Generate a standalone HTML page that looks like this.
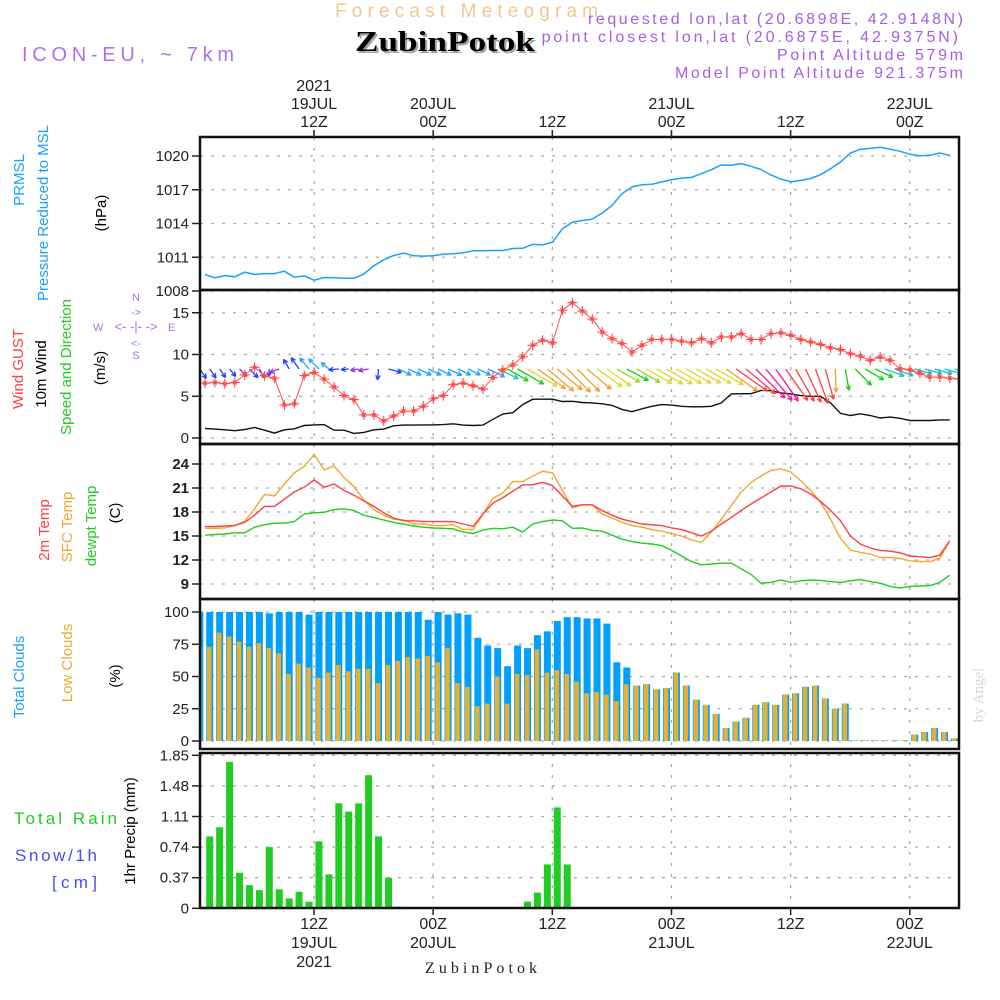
<!DOCTYPE html>
<html><head><meta charset="utf-8"><style>
html,body{margin:0;padding:0;background:#fff}
svg{display:block;font-family:"Liberation Sans",sans-serif}
</style></head><body>
<svg id="chart" width="1000" height="1000" viewBox="0 0 1000 1000" xmlns="http://www.w3.org/2000/svg">
<defs>
<clipPath id="clipP"><rect x="200" y="137" width="759" height="153"/></clipPath>
<clipPath id="clipW"><rect x="200" y="290" width="759" height="154"/></clipPath>
<clipPath id="clipT"><rect x="200" y="444" width="759" height="155"/></clipPath>
<clipPath id="clipC"><rect x="200" y="599" width="759" height="150"/></clipPath>
<clipPath id="clipR"><rect x="200" y="753" width="759" height="155"/></clipPath>
</defs>
<rect width="1000" height="1000" fill="#fff"/>
<!-- header -->
<text x="335" y="17" font-size="19" fill="#f2c98a" textLength="263" lengthAdjust="spacing">Forecast Meteogram</text>
<text x="588" y="24" font-size="16" fill="#a55ee6" textLength="375" lengthAdjust="spacing">requested lon,lat (20.6898E, 42.9148N)</text>
<text x="496" y="42" font-size="16" fill="#a55ee6" textLength="462" lengthAdjust="spacing">grid point closest lon,lat (20.6875E, 42.9375N)</text>
<text x="777" y="60" font-size="16" fill="#a55ee6" textLength="186" lengthAdjust="spacing">Point Altitude 579m</text>
<text x="675" y="78" font-size="16" fill="#a55ee6" textLength="288" lengthAdjust="spacing">Model Point Altitude 921.375m</text>
<text x="22" y="61" font-size="20" fill="#b070e8" textLength="212" lengthAdjust="spacing">ICON-EU, ~ 7km</text>
<rect x="352" y="26" width="188" height="32" fill="#fff"/>
<text x="357" y="53" font-size="29" font-weight="bold" font-family="Liberation Serif, serif" fill="#9aab9a" textLength="180" lengthAdjust="spacingAndGlyphs">ZubinPotok</text>
<text x="355" y="51" font-size="29" font-weight="bold" font-family="Liberation Serif, serif" fill="#000" textLength="180" lengthAdjust="spacingAndGlyphs">ZubinPotok</text>

<!-- left labels -->
<g font-size="15">
<text transform="translate(24,180) rotate(-90)" text-anchor="middle" fill="#1ca0ff">PRMSL</text>
<text transform="translate(48,213) rotate(-90)" text-anchor="middle" fill="#1ca0ff">Pressure Reduced to MSL</text>
<text transform="translate(106,213) rotate(-90)" text-anchor="middle" fill="#000">(hPa)</text>
<text transform="translate(23,369) rotate(-90)" text-anchor="middle" fill="#ff4040">Wind GUST</text>
<text transform="translate(46,374) rotate(-90)" text-anchor="middle" fill="#000">10m Wind</text>
<text transform="translate(71,367) rotate(-90)" text-anchor="middle" fill="#22cc22">Speed and Direction</text>
<text transform="translate(105,368) rotate(-90)" text-anchor="middle" fill="#000">(m/s)</text>
<text transform="translate(49,530) rotate(-90)" text-anchor="middle" fill="#ff4040">2m Temp</text>
<text transform="translate(72,527) rotate(-90)" text-anchor="middle" fill="#f0a830">SFC Temp</text>
<text transform="translate(96,526) rotate(-90)" text-anchor="middle" fill="#22cc22">dewpt Temp</text>
<text transform="translate(120,513) rotate(-90)" text-anchor="middle" fill="#000">(C)</text>
<text transform="translate(24,677) rotate(-90)" text-anchor="middle" fill="#1ca0ff">Total Clouds</text>
<text transform="translate(72,663) rotate(-90)" text-anchor="middle" fill="#f0a830">Low Clouds</text>
<text transform="translate(120,676) rotate(-90)" text-anchor="middle" fill="#000">(%)</text>
<text x="14" y="824" font-size="17" fill="#22cc22" textLength="103" lengthAdjust="spacing">Total  Rain</text>
<text x="15" y="861" font-size="17" fill="#4a4aff" textLength="82" lengthAdjust="spacing">Snow/1h</text>
<text x="52" y="888" font-size="17" fill="#4a4aff" textLength="45" lengthAdjust="spacing">[cm]</text>
<text transform="translate(135,831) rotate(-90)" text-anchor="middle" fill="#000">1hr Precip (mm)</text>
</g>
<g fill="#b070e8" font-size="11">
<text x="93" y="331">W</text><text x="136" y="301" text-anchor="middle">N</text>
<text x="136" y="359" text-anchor="middle">S</text><text x="168" y="331">E</text>
<text x="136" y="331" text-anchor="middle" font-size="13">&lt;- -|- -&gt;</text>
<text x="136" y="316" text-anchor="middle" font-size="11">-&gt;</text>
<text x="136" y="347" text-anchor="middle" font-size="11">&lt;-</text>
</g>
<text transform="translate(983,695) rotate(-90)" text-anchor="middle" font-size="15" font-family="Liberation Serif, serif" fill="#d8d8d8">by Angel</text>
<text x="425" y="973" font-size="16" font-family="Liberation Serif, serif" fill="#222" textLength="112" lengthAdjust="spacing">ZubinPotok</text>

<g id="grid"></g>
<g id="marks"></g>
<g id="axes"></g>
</svg>
<script>
// ---- data (hourly) ----
const pressure = [1009.47,1009.17,1009.38,1009.26,1009.67,1009.47,1009.55,1009.55,1009.76,1009.23,1009.35,1008.96,1009.2,1009.17,1009.14,1009.14,1009.5,1010.24,1010.77,1011.16,1011.37,1011.13,1011.1,1011.13,1011.28,1011.3,1011.4,1011.57,1011.57,1011.6,1011.6,1011.78,1011.8,1012.14,1012.1,1012.34,1013.53,1014.12,1014.27,1014.39,1014.93,1015.6,1016.65,1017.24,1017.45,1017.48,1017.7,1017.9,1018.04,1018.1,1018.43,1018.78,1019.2,1019.17,1019.32,1019.08,1018.8,1018.3,1017.95,1017.7,1017.83,1018.0,1018.34,1018.87,1019.47,1020.27,1020.6,1020.68,1020.77,1020.6,1020.42,1020.15,1020.03,1020.06,1020.27,1020.06];
const windGust = [6.57,6.65,6.5,6.65,7.56,8.46,7.44,7.17,3.94,4.1,7.48,7.83,7.05,6.1,5.08,4.6,2.76,2.76,2.05,2.64,3.23,3.23,3.8,4.7,5.08,6.38,6.57,6.26,5.87,7.24,8.15,8.74,9.72,11.1,11.7,11.4,15.3,16.2,15.2,14.25,12.68,11.9,11.3,10.3,11.1,11.8,11.8,11.8,11.6,11.4,11.9,11.4,12.1,12.1,12.5,11.8,11.8,12.5,12.6,12.3,11.8,11.5,11.2,10.8,10.6,10.1,9.8,9.3,9.7,9.3,8.3,8.15,7.75,7.3,7.3,7.17,7.05];
const wind10m = [1.14,1.06,0.98,0.87,1.02,1.26,0.94,0.59,0.98,1.1,1.5,1.57,1.6,0.94,0.94,0.55,0.67,0.98,1.06,1.46,1.54,1.54,1.57,1.57,1.6,1.7,1.54,1.5,1.54,2.24,2.87,3.03,4.0,4.65,4.65,4.65,4.37,4.4,4.25,4.2,4.1,3.9,3.43,3.15,3.5,3.8,4.0,3.94,3.8,3.74,3.74,3.8,4.2,5.28,5.3,5.3,5.7,5.67,5.4,5.28,5.08,5.0,5.0,4.2,2.95,2.7,2.9,2.7,2.4,2.5,2.36,2.1,2.1,2.1,2.17,2.17];
const windDir = [55,55,55,50,45,45,60,95,160,-120,-125,-130,-135,-140,175,175,170,170,95,15,25,25,25,25,25,25,25,25,25,25,25,30,30,30,35,40,40,45,45,40,35,35,30,28,30,30,30,30,30,30,30,30,30,35,35,40,45,50,55,55,60,65,70,75,88,80,45,30,25,20,20,15,15,15,15,15,15];
const windCol = ['#2040ff','#2040ff','#2040ff','#2040ff','#9b30e0','#2040ff','#2040ff','#2040ff','#9b30e0','#2040ff','#2040ff','#1ea4ff','#1ea4ff','#1ea4ff','#2040ff','#2040ff','#9b30e0','#9b30e0','#2040ff','#2040ff','#1ea4ff','#1ea4ff','#1ea4ff','#1ea4ff','#1ea4ff','#1ea4ff','#1ea4ff','#1ea4ff','#1ea4ff','#1ea4ff','#10c8c8','#10d010','#10d010','#e0d830','#f0a030','#f0a030','#f0a030','#f0a030','#f0a030','#f0a030','#e0d830','#e0d830','#a0d820','#10d010','#a0d820','#e0d830','#e0d830','#e0d830','#e0d830','#e0d830','#e0d830','#e0d830','#e0d830','#f0a030','#ff4040','#ff4040','#ff1493','#ff1493','#ff1493','#ff4040','#ff4040','#ff4040','#ff4040','#ff4040','#f0a030','#10d010','#10d010','#10d010','#10d010','#10c8c8','#10c8c8','#10c8c8','#10c8c8','#10c8c8','#10c8c8','#10c8c8','#10c8c8'];
const temp2m = [16.17,16.17,16.25,16.33,16.7,17.6,18.7,18.7,19.6,20.5,21.1,22.0,21.1,21.5,20.7,20.1,19.4,18.7,17.9,17.25,16.9,16.9,16.8,16.8,16.8,16.8,16.5,16.2,17.75,19.1,19.8,20.6,21.4,21.4,21.7,21.3,20.0,18.7,18.9,18.9,18.17,17.6,17.1,16.8,16.5,16.4,16.3,16.0,15.8,15.4,15.0,15.6,16.5,17.3,18.2,19.0,19.75,20.5,21.25,21.25,20.9,20.25,19.3,18.2,16.9,15.0,14.0,13.5,13.2,13.1,12.9,12.5,12.4,12.3,12.6,14.4];
const tempSfc = [15.96,15.96,16.0,16.33,16.83,18.4,20.2,20.0,21.5,22.9,23.7,25.2,23.25,23.75,22.3,21.2,19.5,18.3,17.6,17.1,17.0,16.5,16.5,16.3,16.3,16.4,15.8,15.8,17.75,19.7,20.4,21.8,21.8,22.5,23.1,22.9,20.7,18.5,18.9,18.9,17.75,17.25,16.7,16.3,16.1,15.8,15.6,15.3,15.0,14.5,14.2,15.5,17.1,18.8,20.5,21.7,22.5,23.2,23.4,23.0,21.9,20.7,19.2,17.1,14.7,13.25,12.96,12.75,12.3,12.3,12.2,11.9,11.8,11.8,12.2,14.4];
const dewpt = [15.1,15.17,15.25,15.4,15.4,16.1,16.4,16.6,16.6,16.8,17.75,17.9,17.96,18.3,18.4,18.2,17.6,17.3,17.0,16.7,16.5,16.25,16.1,16.0,15.96,15.9,15.5,15.3,15.75,15.96,15.9,16.1,15.5,16.5,16.8,17.0,16.9,15.96,16.0,15.7,15.6,15.1,14.6,14.3,14.1,14.0,13.8,13.2,12.5,11.8,11.4,11.5,11.6,11.6,10.9,10.2,9.1,9.2,9.5,9.2,9.4,9.5,9.45,9.3,9.2,9.4,9.55,9.3,9.1,8.7,8.5,8.7,8.75,8.8,9.2,10.1];
const totalClouds = [100,100,100,100,100,100,100,99,100,100,100,98,100,100,100,100,100,100,100,100,100,100,100,94,100,98,99,98,80,74,72,58,74,72,82,85,93,96,96,95,95,91,61,57,43,44,40,41,53,43,32,28,21,10,15,18,28,30,28,36,37,42,43,33,25,29,0.5,0.5,0.5,0.5,0.5,0.5,5,7,10,7,2];
const lowClouds = [73,73,84,81,77,73,76,72,68,52,60,57,49,53,59,54,56,56,45,59,62,65,64,66,61,72,45,42,27,29,50,29,52,51,71,53,55,52,46,37,38,36,31,44,43,44,40,41,53,43,32,28,21,10,15,18,28,30,28,36,37,42,43,33,25,29,0.5,0.5,0.5,0.5,0.5,0.5,5,7,10,7,2];
const precip = [0,0.87,0.98,1.77,0.43,0.28,0.22,0.74,0.23,0.12,0.20,0.08,0.81,0.41,1.27,1.17,1.27,1.61,0.87,0.37,0.02,0,0,0,0,0,0,0,0,0,0,0,0,0.08,0.19,0.53,1.22,0.53,0,0,0,0,0,0,0,0,0,0,0,0,0,0,0,0,0,0,0,0,0,0,0,0,0,0,0,0,0,0,0,0,0,0,0,0,0,0,0];
const pressureTicks = [1008,1011,1014,1017,1020];
const windTicks = [0,5,10,15];
const tempTicks = [9,12,15,18,21,24];
const cloudTicks = [0,25,50,75,100];
const precipTicks = [0,0.37,0.74,1.11,1.48,1.85];
const timeTickHours = [12,24,36,48,60,72];
const timeTopLabels = [["2021","19JUL","12Z"],["20JUL","00Z"],["12Z"],["21JUL","00Z"],["12Z"],["22JUL","00Z"]];

// ---- scales ----
const X0 = 200, X1 = 959;
const xh = h => 314 + (h - 12) * 9.93;
const barX = i => xh(i + 0.5);
const lineX = k => xh(k + 1.02);
const yP = v => 156 - (v - 1020) * 11.25;
const yW = v => 438 - v * 8.35;
const yT = v => 584 - (v - 9) * 8;
const yC = v => 741 - v * 1.29;
const yR = v => 908.3 - v * 82.7;

const NS = 'http://www.w3.org/2000/svg';
function mk(tag, attrs, parent) {
  const e = document.createElementNS(NS, tag);
  for (const k in attrs) e.setAttribute(k, attrs[k]);
  parent.appendChild(e);
  return e;
}
const grid = document.getElementById('grid');
const marks = document.getElementById('marks');
const axes = document.getElementById('axes');

const panels = [
  {name:'pressure', top:137, bot:290, ticks:pressureTicks, y:yP, fmt:v=>String(v), bold:false},
  {name:'wind', top:290, bot:444, ticks:windTicks, y:yW, fmt:v=>String(v), bold:false},
  {name:'temp', top:444, bot:599, ticks:tempTicks, y:yT, fmt:v=>String(v), bold:true},
  {name:'clouds', top:599, bot:749, ticks:cloudTicks, y:yC, fmt:v=>String(v), bold:false},
  {name:'precip', top:753, bot:908, ticks:precipTicks, y:yR, fmt:v=>v===0?'0':v.toFixed(2), bold:false}
];

panels.forEach(p => {
  p.ticks.forEach(t => {
    const y = p.y(t);
    const g = mk('line', {x1:X0, x2:X1, y1:y, y2:y, stroke:'#aaa', 'stroke-width':1.3, 'stroke-dasharray':'3 8'}, grid);
    
    
    const tk = mk('line', {x1:192, x2:X0, y1:y, y2:y, stroke:'#222', 'stroke-width':1.5}, axes);
    
    
    const lb = mk('text', {x:189, y:y+5, 'text-anchor':'end', 'font-size':15, fill:'#222', 'font-weight':p.bold?'bold':'normal'}, axes);
    lb.textContent = p.fmt(t);
    
    
  });
  timeTickHours.forEach(h => {
    const x = xh(h);
    const v = mk('line', {x1:x, x2:x, y1:p.top, y2:p.bot, stroke:'#aaa', 'stroke-width':1.3, 'stroke-dasharray':'3 8'}, grid);
    
    
  });
  const fr = mk('rect', {x:X0, y:p.top, width:X1-X0, height:p.bot-p.top, fill:'none', stroke:'#111', 'stroke-width':2.5}, axes);
  
  
});

// time labels
timeTickHours.forEach((h, j) => {
  const x = xh(h);
  const t1 = mk('line', {x1:x, x2:x, y1:130, y2:137, stroke:'#222', 'stroke-width':1.5}, axes);
  
  
  const t2 = mk('line', {x1:x, x2:x, y1:908, y2:915, stroke:'#222', 'stroke-width':1.5}, axes);
  
  
  const lines = timeTopLabels[j];
  lines.forEach((s, n) => {
    const tt = mk('text', {x:x, y:127 - (lines.length - 1 - n) * 18, 'text-anchor':'middle', 'font-size':16, fill:'#222'}, axes);
    tt.textContent = s;
    
    
  });
  lines.slice().reverse().forEach((s, n) => {
    const bt = mk('text', {x:x, y:929 + n * 19, 'text-anchor':'middle', 'font-size':16, fill:'#222'}, axes);
    bt.textContent = s;
    
    
  });
});

function polyline(arr, ys, color, clip, name, width) {
  const pts = arr.map((v, k) => lineX(k).toFixed(1) + ',' + ys(v).toFixed(1)).join(' ');
  const pl = mk('polyline', {points:pts, fill:'none', stroke:color, 'stroke-width':width||1.4, 'clip-path':'url(#' + clip + ')'}, marks);
  
  
  return pl;
}

// pressure
polyline(pressure, yP, '#1ca0ff', 'clipP', 'pressure-line', 1.5);

// wind 10m
polyline(wind10m, yW, '#111', 'clipW', 'wind-10m-line', 1.4);

// wind arrows
const arrowG = mk('g', {'clip-path':'url(#clipW)'}, marks);


windDir.forEach((d, i) => {
  const x = barX(i), y = 369;
  const w = wind10m[Math.min(i, wind10m.length - 1)];
  const L = 4 + 6.5 * w;
  const a = d * Math.PI / 180;
  const x2 = x + L * Math.cos(a), y2 = y + L * Math.sin(a);
  const col = windCol[i];
  const g = mk('g', {stroke:col, 'stroke-width':1.3, fill:'none'}, arrowG);
  
  
  mk('line', {x1:x, y1:y, x2:x2, y2:y2}, g);
  [0.45, -0.45].forEach(o => {
    mk('line', {x1:x2, y1:y2, x2:x2 - 5*Math.cos(a+o), y2:y2 - 5*Math.sin(a+o)}, g);
  });
});

// gust
polyline(windGust, yW, '#ff5050', 'clipW', 'wind-gust-line', 1.0);
const gustG = mk('g', {stroke:'#ff4848', 'stroke-width':1.1, 'clip-path':'url(#clipW)'}, marks);


windGust.forEach((v, k) => {
  const x = lineX(k), y = yW(v);
  const m = mk('path', {d:`M${x-5},${y}H${x+5}M${x},${y-5}V${y+5}M${x-2},${y-2}L${x+2},${y+2}M${x-2},${y+2}L${x+2},${y-2}`}, gustG);
  
  
});

// temps
polyline(dewpt, yT, '#22cc22', 'clipT', 'dewpoint-line', 1.4);
polyline(tempSfc, yT, '#f0a830', 'clipT', 'sfc-temp-line', 1.4);
polyline(temp2m, yT, '#ff4040', 'clipT', 'temp-2m-line', 1.4);

// clouds
const cg = mk('g', {'clip-path':'url(#clipC)'}, marks);


totalClouds.forEach((v, i) => {
  const x = barX(i);
  const b = mk('rect', {x:x-3.5, y:yC(v), width:7, height:yC(0)-yC(v), fill:'#00a0ff'}, cg);
  
  
  const lv = lowClouds[i];
  const o = mk('rect', {x:x-2.8, y:yC(lv), width:4.6, height:yC(0)-yC(lv), fill:'#e8b030'}, cg);
  
  
});

// precip
const rg = mk('g', {'clip-path':'url(#clipR)'}, marks);


precip.forEach((v, i) => {
  if (v <= 0) return;
  const x = barX(i);
  const b = mk('rect', {x:x-3.5, y:yR(v), width:7, height:yR(0)-yR(v), fill:'#22cc22'}, rg);
  
  
});
</script>
</body></html>
